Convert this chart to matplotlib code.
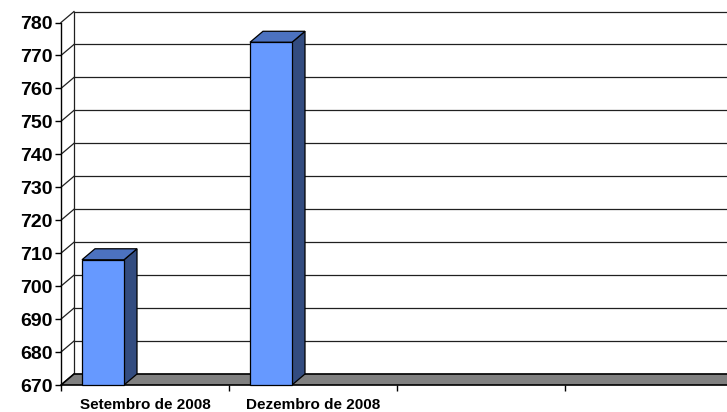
import matplotlib
matplotlib.use("Agg")
import matplotlib.pyplot as plt
from matplotlib.patches import Polygon

categories = ["Setembro de 2008", "Dezembro de 2008", "", ""]
values = [708, 774]
y_ticks = [670, 680, 690, 700, 710, 720, 730, 740, 750, 760, 770, 780]

W, H = 727, 412
fig = plt.figure(figsize=(W / 100, H / 100), dpi=100)
plt.rcParams['font.family'] = ['Liberation Sans', 'DejaVu Sans']

x0_px, y0_px, ytop_px = 61, 385, 22.5
cat_px = 168.0
ymin, ymax = 670, 780
val_px = (y0_px - ytop_px) / (ymax - ymin)
xmax = (W - x0_px) / cat_px

ax = fig.add_axes([x0_px / W, (H - y0_px) / H, (W - x0_px) / W, (y0_px - ytop_px) / H])
ax.set_xlim(0, xmax)
ax.set_ylim(ymin, ymax)
for s in ax.spines.values():
    s.set_visible(False)
ax.patch.set_visible(False)

# depth offsets in data units
ddx = 13 / cat_px
ddy = 11 / val_px

# back wall gridlines and side wall lines
for t in y_ticks:
    ax.plot([ddx, xmax + 1], [t + ddy, t + ddy], color='#202020', lw=0.9, clip_on=False, zorder=1)
    ax.plot([0, ddx], [t, t + ddy], color='#202020', lw=0.9, clip_on=False, zorder=1)
ax.plot([ddx, ddx], [ymin + ddy, ymax + ddy], color='#202020', lw=0.9, clip_on=False, zorder=1)

# floor
floor = Polygon([(0, ymin), (xmax + 1, ymin), (xmax + 1 + ddx, ymin + ddy), (ddx, ymin + ddy)],
                closed=True, facecolor='#808080', edgecolor='black', lw=1.2, clip_on=False, zorder=2)
ax.add_patch(floor)

# bars
bw = 0.25
boff = 0.125
for i, v in enumerate(values):
    xl = i + boff
    xr = xl + bw
    side = Polygon([(xr, ymin), (xr, v), (xr + ddx, v + ddy), (xr + ddx, ymin + ddy)],
                   closed=True, facecolor='#334C80', edgecolor='black', lw=0.9, clip_on=False, zorder=3)
    top = Polygon([(xl, v), (xr, v), (xr + ddx, v + ddy), (xl + ddx, v + ddy)],
                  closed=True, facecolor='#4C72C0', edgecolor='black', lw=0.9, clip_on=False, zorder=3)
    front = Polygon([(xl, ymin), (xr, ymin), (xr, v), (xl, v)],
                    closed=True, facecolor='#6699FF', edgecolor='black', lw=0.9, clip_on=False, zorder=4)
    for p in (side, top, front):
        ax.add_patch(p)

# front vertical axis
ax.plot([0, 0], [ymin, ymax], color='black', lw=1.0, clip_on=False, zorder=5)

ax.set_yticks(y_ticks)
ax.set_yticklabels([str(t) for t in y_ticks], fontsize=14, fontweight='bold')
ax.tick_params(axis='y', direction='out', length=4, width=1, pad=2)

ax.set_xticks([0, 1, 2, 3])
ax.set_xticklabels([])
ax.tick_params(axis='x', direction='out', length=4, width=1)

for i, c in enumerate(categories):
    if c:
        ax.text(i + 0.5, ymin - 20 / val_px, c, ha='center', va='center',
                fontsize=11, fontweight='bold', clip_on=False)

fig.savefig("out.png", dpi=100)
